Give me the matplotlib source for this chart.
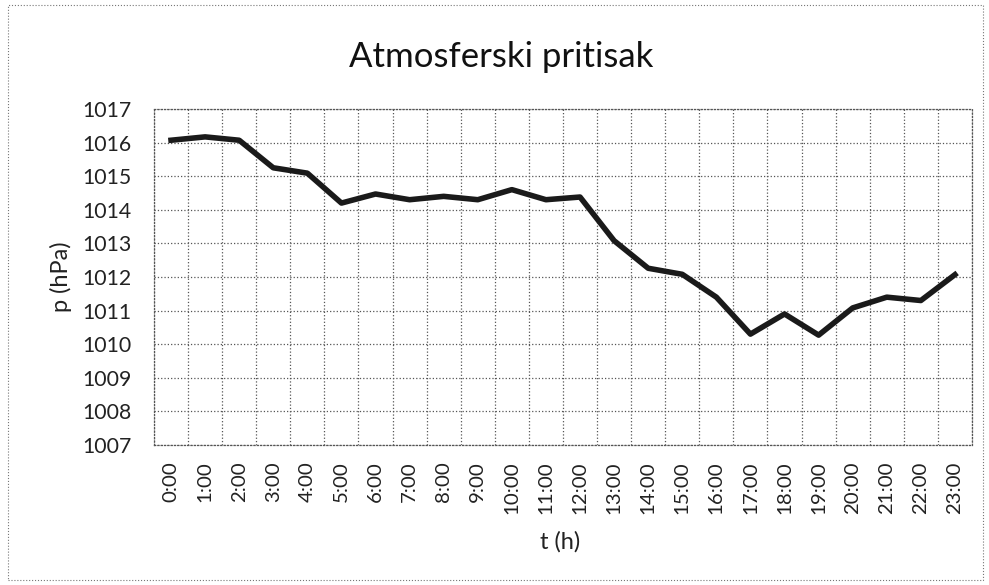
import matplotlib
matplotlib.use("Agg")
import matplotlib.pyplot as plt
from matplotlib.patches import Rectangle
import numpy as np

hours = ["0:00", "1:00", "2:00", "3:00", "4:00", "5:00", "6:00", "7:00", "8:00", "9:00",
         "10:00", "11:00", "12:00", "13:00", "14:00", "15:00", "16:00", "17:00", "18:00",
         "19:00", "20:00", "21:00", "22:00", "23:00"]
pressure = [1016.07, 1016.17, 1016.07, 1015.25, 1015.09, 1014.2, 1014.47, 1014.3, 1014.4,
            1014.3, 1014.6, 1014.3, 1014.38, 1013.08, 1012.26, 1012.08, 1011.4, 1010.3,
            1010.9, 1010.27, 1011.08, 1011.4, 1011.3, 1012.07]
yticks = list(range(1007, 1018))

plt.rcParams['font.family'] = ['Lato', 'DejaVu Sans']

fig = plt.figure(figsize=(9.89, 5.85), dpi=100)
ax = fig.add_axes([0.1557, 0.2393, 0.9828 - 0.1557, 0.8137 - 0.2393])

x = np.arange(len(hours))
ax.plot(x, pressure, color='#1a1a1a', linewidth=4.0, solid_joinstyle='round')

ax.set_xlim(-0.5, len(hours) - 0.5)
ax.set_ylim(yticks[0], yticks[-1])
ax.set_yticks(yticks)
ax.set_yticklabels([str(v) for v in yticks], fontsize=15.3, color='#222222')
ax.set_xticks(x)
ax.set_xticklabels(hours, rotation=90, fontsize=14.7, color='#222222')
ax.set_xticks(np.arange(-0.5, len(hours)), minor=True)
ax.tick_params(axis='both', which='both', length=0)
ax.tick_params(axis='y', which='major', pad=16)
ax.tick_params(axis='x', which='major', pad=12)

ax.grid(True, which='minor', axis='x', linestyle=':', color='#555555', linewidth=0.9)
ax.grid(True, which='major', axis='y', linestyle=':', color='#555555', linewidth=0.9)
ax.grid(False, which='major', axis='x')
for s in ax.spines.values():
    s.set_linestyle(':')
    s.set_color('#555555')
    s.set_linewidth(0.9)

fig.text(0.507, 1 - 57 / 585, "Atmosferski pritisak", fontsize=25, ha='center', va='center',
         color='#111111')
ax.set_ylabel("p (hPa)", fontsize=17, color='#222222')
ax.yaxis.set_label_coords(-0.100, 0.5)
ax.set_xlabel("t (h)", fontsize=17, color='#222222')
ax.xaxis.set_label_coords(0.497, -0.257)

fig.patches.append(Rectangle((0.008, 0.008), 0.986, 0.984, transform=fig.transFigure,
                             fill=False, linestyle=':', edgecolor='#777777', linewidth=0.8))

fig.savefig("out.png", dpi=100)
